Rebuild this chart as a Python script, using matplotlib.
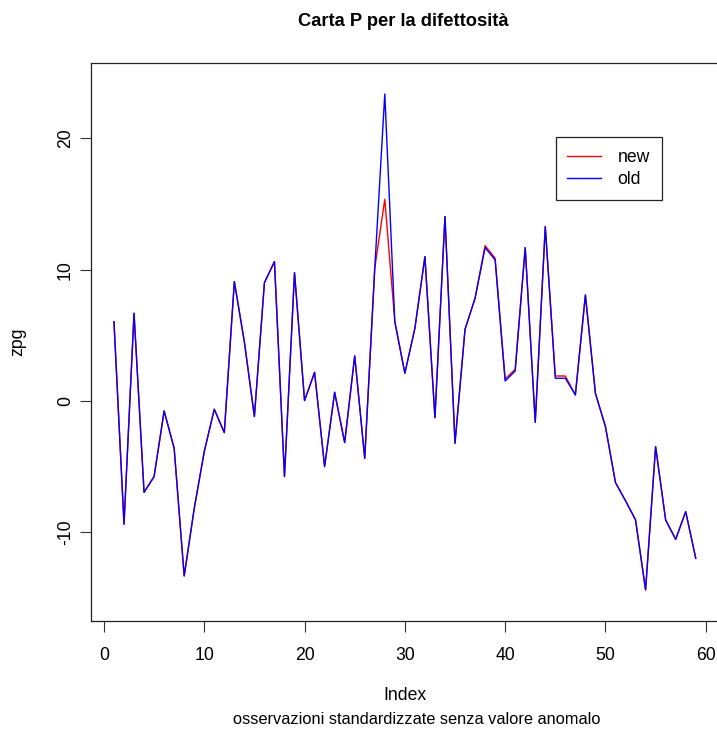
import numpy as np
import matplotlib
matplotlib.use("Agg")
import matplotlib.pyplot as plt

plt.rcParams['font.family'] = ['Liberation Sans', 'DejaVu Sans']
plt.rcParams['axes.unicode_minus'] = False

# standardised observations, before (old) and after (new) removing the outlier
index = np.arange(1, 60)
zpg_new = [6.04, -9.39, 6.68, -6.96, -5.76, -0.76, -3.60, -13.33, -8.20, -3.86,
           -0.63, -2.41, 9.09, 4.50, -1.19, 9.01, 10.61, -5.76, 9.77, 0.03,
           2.18, -5.00, 0.66, -3.17, 3.43, -4.37, 10.10, 15.36, 6.04, 2.11,
           5.53, 10.99, -1.27, 14.04, -3.22, 5.46, 7.82, 11.83, 10.87, 1.68,
           2.41, 11.68, -1.63, 13.28, 1.90, 1.90, 0.46, 8.07, 0.58, -1.96,
           -6.22, -7.60, -9.06, -14.39, -3.48, -9.06, -10.54, -8.43, -11.98]
zpg_old = [6.04, -9.39, 6.68, -6.96, -5.76, -0.76, -3.60, -13.33, -8.20, -3.86,
           -0.63, -2.41, 9.09, 4.50, -1.19, 9.01, 10.61, -5.76, 9.77, 0.03,
           2.18, -5.00, 0.66, -3.17, 3.43, -4.37, 10.10, 23.38, 6.04, 2.11,
           5.53, 10.99, -1.27, 14.04, -3.22, 5.46, 7.82, 11.68, 10.74, 1.52,
           2.28, 11.68, -1.63, 13.28, 1.73, 1.73, 0.46, 8.07, 0.58, -1.96,
           -6.22, -7.60, -9.06, -14.39, -3.48, -9.06, -10.54, -8.43, -11.98]

fs = 12.7

fig = plt.figure(figsize=(7.17, 7.31), dpi=100)
ax = fig.add_axes([90.7 / 717, 1 - 621 / 731, (719 - 90.7) / 717, (621 - 63) / 731])

ax.plot(index, zpg_new, color='red', linewidth=1.0, label='new')
ax.plot(index, zpg_old, color='blue', linewidth=1.0, label='old')

ax.set_xlim(-1.32, 61.32)
ax.set_ylim(-16.76, 25.74)
ax.set_xticks([0, 10, 20, 30, 40, 50, 60])
ax.set_yticks([-10, 0, 10, 20])
ax.tick_params(axis='both', direction='out', length=7.7, width=0.8,
               labelsize=fs, color='#333333')
ax.tick_params(axis='x', pad=11)
ax.tick_params(axis='y', pad=4.5)
plt.setp(ax.get_yticklabels(), rotation=90, va='center')

for side in ax.spines.values():
    side.set_linewidth(0.9)
    side.set_color('#222222')

fig.text(403 / 717, 1 - 22 / 731, 'Carta P per la difettosità', ha='center',
         va='center', fontsize=13.2, fontweight='bold')
fig.text(18 / 717, 1 - 342 / 731, 'zpg', rotation=90, ha='center',
         va='center', fontsize=fs)
fig.text(405 / 717, 1 - 696 / 731, 'Index', ha='center', va='center', fontsize=fs)
fig.text(417 / 717, 1 - 720 / 731, 'osservazioni standardizzate senza valore anomalo',
         ha='center', va='center', fontsize=11.8)

leg = ax.legend(loc='upper left', bbox_to_anchor=(556 / 717, 1 - 137.3 / 731),
                bbox_transform=fig.transFigure, borderaxespad=0, fontsize=fs,
                frameon=True, fancybox=False, framealpha=1, edgecolor='#222222',
                borderpad=0.65, handlelength=1.9, handletextpad=0.95,
                labelspacing=0.3)
leg.get_frame().set_linewidth(0.9)

fig.savefig('out.png', dpi=100)
